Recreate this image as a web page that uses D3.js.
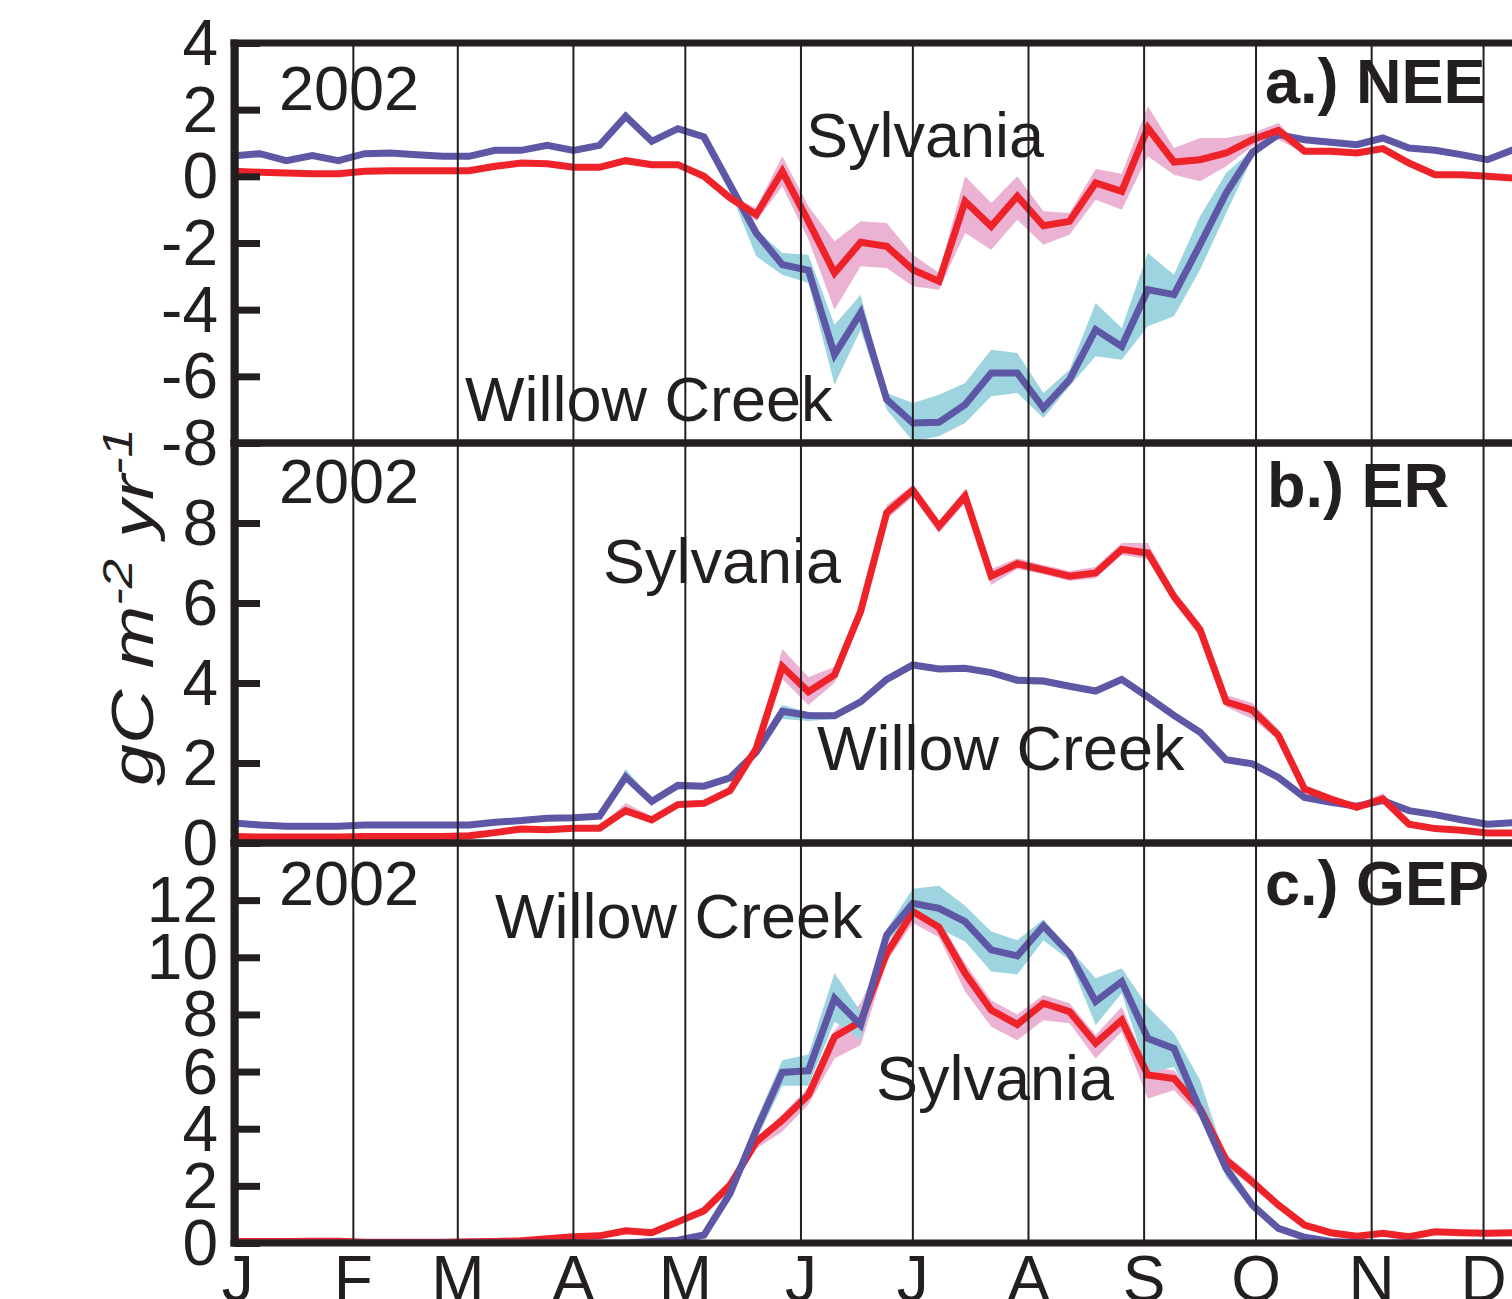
<!DOCTYPE html>
<html>
<head>
<meta charset="utf-8">
<script src="https://cdn.jsdelivr.net/npm/d3@7"></script>
<style>
  html, body { margin: 0; padding: 0; background: #ffffff; }
  svg { display: block; }
  text { font-family: "Liberation Sans", Arial, Helvetica, sans-serif; fill: #231f20; }
</style>
</head>
<body>
<svg id="chart" width="1512" height="1299"></svg>
<script>
// Weekly sample days (days since 1 Jan 2002)
const weekDays = [0,7,14,21,28,35,42,49,56,63,70,77,84,91,98,105,112,119,126,133,140,147,154,161,168,175,182,189,196,203,210,217,224,231,238,245,252,259,266,273,280,287,294,301,308,315,322,329,336,343];

// Month labels and the day-of-year of each month start
const monthLabels = ["J","F","M","A","M","J","J","A","S","O","N","D"];
const monthStarts = [1,32,60,91,121,152,182,213,244,274,305,335];

// a.) NEE
const neeWillow = [0.62,0.68,0.47,0.62,0.47,0.68,0.70,0.65,0.60,0.60,0.78,0.78,0.93,0.78,0.93,1.80,1.05,1.43,1.18,-0.26,-1.70,-2.65,-2.82,-5.35,-4.10,-6.70,-7.40,-7.38,-6.85,-5.90,-5.90,-6.95,-6.10,-4.60,-5.10,-3.40,-3.55,-2.05,-0.50,0.72,1.25,1.10,1.02,0.95,1.15,0.85,0.78,0.65,0.50,0.80];
const neeWillowLo = [0.57,0.63,0.42,0.57,0.42,0.63,0.65,0.60,0.55,0.55,0.73,0.73,0.88,0.73,0.88,1.70,0.98,1.36,1.10,-0.45,-2.40,-2.95,-3.20,-6.25,-4.60,-7.00,-7.95,-7.80,-7.40,-6.60,-6.50,-7.25,-6.30,-5.40,-5.50,-4.50,-4.20,-2.80,-1.10,0.55,1.18,1.04,0.96,0.89,1.08,0.79,0.72,0.59,0.44,0.74];
const neeWillowHi = [0.67,0.73,0.52,0.67,0.52,0.73,0.75,0.70,0.65,0.65,0.83,0.83,0.98,0.83,0.98,1.95,1.12,1.50,1.26,-0.10,-1.60,-2.30,-2.35,-4.45,-3.55,-6.50,-6.80,-6.55,-6.20,-5.20,-5.30,-6.50,-5.80,-3.80,-4.55,-2.30,-2.95,-1.20,0.10,0.80,1.32,1.16,1.08,1.01,1.22,0.91,0.84,0.71,0.56,0.86];
const neeSylvania = [0.15,0.12,0.10,0.08,0.08,0.15,0.17,0.17,0.17,0.17,0.30,0.40,0.38,0.27,0.27,0.47,0.35,0.35,0.00,-0.65,-1.15,0.15,-1.35,-2.90,-1.98,-2.10,-2.80,-3.15,-0.75,-1.50,-0.60,-1.48,-1.35,-0.20,-0.45,1.45,0.43,0.50,0.70,1.10,1.38,0.75,0.75,0.70,0.83,0.40,0.05,0.05,0.00,-0.05];
const neeSylvaniaLo = [0.10,0.07,0.05,0.03,0.03,0.10,0.12,0.12,0.12,0.12,0.25,0.35,0.33,0.22,0.22,0.42,0.30,0.30,-0.10,-0.75,-1.35,-0.30,-1.90,-4.00,-2.70,-2.75,-3.30,-3.40,-1.70,-2.20,-1.30,-2.05,-1.75,-0.70,-1.00,0.60,0.05,-0.15,0.30,0.90,1.10,0.70,0.70,0.65,0.78,0.35,0.00,0.00,-0.05,-0.10];
const neeSylvaniaHi = [0.20,0.17,0.15,0.13,0.13,0.20,0.22,0.22,0.22,0.22,0.35,0.45,0.43,0.32,0.32,0.52,0.40,0.40,0.08,-0.55,-0.95,0.60,-0.90,-1.95,-1.35,-1.40,-2.35,-2.90,0.00,-0.80,0.00,-1.05,-1.10,0.22,0.08,2.10,0.85,1.15,1.15,1.30,1.60,0.80,0.80,0.75,0.88,0.45,0.10,0.10,0.05,0.00];

// b.) ER
const erWillow = [0.50,0.45,0.42,0.42,0.42,0.45,0.45,0.45,0.45,0.45,0.52,0.56,0.62,0.63,0.67,1.65,1.04,1.44,1.42,1.63,2.27,3.29,3.19,3.18,3.53,4.09,4.45,4.35,4.37,4.26,4.07,4.05,3.92,3.80,4.09,3.65,3.19,2.77,2.08,1.98,1.64,1.14,1.02,0.92,1.06,0.81,0.71,0.58,0.47,0.51];
const erWillowLo = [0.45,0.40,0.37,0.37,0.37,0.40,0.40,0.40,0.40,0.40,0.47,0.51,0.57,0.58,0.62,1.55,0.98,1.38,1.36,1.56,2.18,3.10,3.05,3.10,3.45,4.00,4.38,4.28,4.30,4.18,3.98,3.96,3.84,3.72,4.00,3.57,3.11,2.69,2.00,1.90,1.56,1.07,0.95,0.85,0.99,0.75,0.65,0.52,0.41,0.45];
const erWillowHi = [0.55,0.50,0.47,0.47,0.47,0.50,0.50,0.50,0.50,0.50,0.57,0.61,0.67,0.68,0.72,1.85,1.10,1.50,1.48,1.70,2.36,3.45,3.27,3.26,3.61,4.18,4.52,4.42,4.44,4.34,4.16,4.14,4.00,3.88,4.18,3.73,3.27,2.85,2.16,2.06,1.72,1.21,1.09,0.99,1.13,0.87,0.77,0.64,0.53,0.57];
const erSylvania = [0.16,0.15,0.15,0.15,0.15,0.16,0.16,0.16,0.16,0.18,0.26,0.35,0.33,0.37,0.37,0.81,0.58,0.96,0.99,1.31,2.36,4.41,3.78,4.20,5.79,8.26,8.82,7.92,8.67,6.67,6.98,6.83,6.67,6.75,7.34,7.25,6.16,5.33,3.53,3.32,2.69,1.35,1.10,0.89,1.10,0.47,0.36,0.32,0.25,0.25];
const erSylvaniaLo = [0.11,0.10,0.10,0.10,0.10,0.11,0.11,0.11,0.11,0.13,0.21,0.30,0.28,0.32,0.32,0.70,0.52,0.88,0.92,1.22,2.25,4.10,3.45,4.00,5.62,8.10,8.65,7.75,8.50,6.45,6.85,6.72,6.55,6.62,7.20,7.10,6.00,5.15,3.40,3.10,2.58,1.26,1.02,0.82,1.00,0.41,0.30,0.26,0.19,0.19];
const erSylvaniaHi = [0.21,0.20,0.20,0.20,0.20,0.21,0.21,0.21,0.21,0.23,0.31,0.40,0.38,0.42,0.42,1.00,0.66,1.05,1.08,1.42,2.48,4.85,4.15,4.40,5.95,8.45,8.95,8.05,8.85,6.85,7.12,6.95,6.80,6.90,7.50,7.50,6.32,5.50,3.70,3.50,2.85,1.45,1.20,0.96,1.25,0.53,0.42,0.38,0.31,0.31];

// c.) GEP
const gepWillow = [0.00,0.00,0.00,0.00,0.00,0.00,0.00,0.00,0.00,0.00,0.00,0.00,0.00,0.00,0.00,0.00,0.05,0.10,0.28,1.74,3.95,5.97,6.03,8.56,7.63,10.78,11.89,11.71,11.25,10.26,10.05,11.10,10.14,8.45,9.15,7.16,6.81,4.65,2.61,1.33,0.51,0.20,0.05,0.02,0.00,0.00,0.00,0.00,0.00,0.00];
const gepWillowLo = [0.00,0.00,0.00,0.00,0.00,0.00,0.00,0.00,0.00,0.00,0.00,0.00,0.00,0.00,0.00,0.00,0.02,0.05,0.18,1.50,3.60,5.50,5.50,7.75,7.10,10.50,11.60,11.00,10.55,9.50,9.40,10.60,9.90,7.63,8.74,5.94,6.17,4.54,2.30,1.15,0.40,0.15,0.02,0.00,0.00,0.00,0.00,0.00,0.00,0.00];
const gepWillowHi = [0.05,0.05,0.05,0.05,0.05,0.05,0.05,0.05,0.05,0.05,0.05,0.05,0.05,0.05,0.05,0.05,0.08,0.15,0.38,2.00,4.30,6.40,6.60,9.45,8.10,11.00,12.40,12.50,11.80,10.90,10.60,11.33,10.30,9.27,9.62,8.27,7.34,5.70,2.90,1.50,0.60,0.25,0.08,0.05,0.05,0.05,0.05,0.05,0.05,0.05];
const gepSylvania = [0.05,0.05,0.05,0.06,0.06,0.03,0.03,0.03,0.03,0.04,0.05,0.08,0.15,0.22,0.25,0.43,0.36,0.74,1.13,2.03,3.54,4.30,5.18,7.22,7.75,10.14,11.60,11.05,9.44,8.15,7.65,8.39,8.10,6.99,7.80,5.88,5.76,4.71,2.90,2.14,1.33,0.63,0.36,0.24,0.34,0.22,0.39,0.36,0.34,0.36];
const gepSylvaniaLo = [0.00,0.00,0.00,0.01,0.01,0.00,0.00,0.00,0.00,0.00,0.00,0.03,0.10,0.17,0.20,0.36,0.30,0.64,0.98,1.80,3.30,3.90,4.85,6.46,6.93,9.85,11.20,10.70,8.80,7.57,7.10,7.80,7.69,6.46,7.39,5.06,5.35,4.40,2.70,1.95,1.20,0.57,0.31,0.19,0.29,0.17,0.34,0.31,0.29,0.31];
const gepSylvaniaHi = [0.10,0.10,0.10,0.11,0.11,0.08,0.08,0.08,0.08,0.09,0.10,0.13,0.20,0.27,0.30,0.50,0.42,0.84,1.28,2.20,3.70,4.50,5.45,7.45,8.39,10.40,11.85,11.30,9.79,8.50,8.00,8.68,8.39,7.28,8.27,6.17,6.05,5.00,3.10,2.35,1.45,0.69,0.41,0.29,0.39,0.27,0.44,0.41,0.39,0.41];

// Tick values per panel
const neeTicks = [4, 2, 0, -2, -4, -6, -8];
const erTicks = [0, 2, 4, 6, 8];
const gepTicks = [0, 2, 4, 6, 8, 10, 12];

// ---------------------------------------------------------------
const INK = "#231f20";
const RED = "#ee2229";
const PURPLE = "#5e57a6";
const PINK = "#ebb2d3";
const CYAN = "#9ed4df";

const svg = d3.select("#chart");
const left = 234, right = 1600;
const panelH = 400, firstTop = 43;
const FS = 63;

const x = d3.scaleLinear().domain([0, 365]).range([left, left + 365 * 3.73]);

const panels = [
  { id: "a", title: "a.) NEE", domain: [-8, 4], ticks: neeTicks,
    willow: neeWillow, willowLo: neeWillowLo, willowHi: neeWillowHi,
    syl: neeSylvania, sylLo: neeSylvaniaLo, sylHi: neeSylvaniaHi,
    redOnTop: true,
    labels: [
      { t: "2002", x: 279, y: 110 },
      { t: "a.) NEE", x: 1265, y: 103, bold: true },
      { t: "Sylvania", x: 806, y: 157 },
      { t: "Willow Creek", x: 465, y: 421 }
    ] },
  { id: "b", title: "b.) ER", domain: [0, 10], ticks: erTicks,
    willow: erWillow, willowLo: erWillowLo, willowHi: erWillowHi,
    syl: erSylvania, sylLo: erSylvaniaLo, sylHi: erSylvaniaHi,
    redOnTop: true,
    labels: [
      { t: "2002", x: 279, y: 503 },
      { t: "b.) ER", x: 1267, y: 507, bold: true },
      { t: "Sylvania", x: 603, y: 583 },
      { t: "Willow Creek", x: 817, y: 770 }
    ] },
  { id: "c", title: "c.) GEP", domain: [0, 14], ticks: gepTicks,
    willow: gepWillow, willowLo: gepWillowLo, willowHi: gepWillowHi,
    syl: gepSylvania, sylLo: gepSylvaniaLo, sylHi: gepSylvaniaHi,
    redOnTop: false,
    labels: [
      { t: "2002", x: 279, y: 905 },
      { t: "c.) GEP", x: 1265, y: 905, bold: true },
      { t: "Willow Creek", x: 495, y: 938 },
      { t: "Sylvania", x: 876, y: 1100 }
    ] }
];

const defs = svg.append("defs");

panels.forEach((p, k) => {
  const top = firstTop + k * panelH;
  const bottom = top + panelH;
  const y = d3.scaleLinear().domain(p.domain).range([bottom, top]);

  defs.append("clipPath").attr("id", "clip-" + p.id)
    .append("rect").attr("x", left).attr("y", top).attr("width", right - left).attr("height", panelH);

  const g = svg.append("g");
  const plot = g.append("g").attr("clip-path", `url(#clip-${p.id})`);

  const area = (lo, hi) => d3.area()
    .x((d, i) => x(weekDays[i]))
    .y0((d, i) => y(lo[i]))
    .y1((d, i) => y(hi[i]));
  const line = vals => d3.line()
    .x((d, i) => x(weekDays[i]))
    .y(d => y(d))(vals);

  // uncertainty envelopes
  plot.append("path").attr("d", area(p.sylLo, p.sylHi)(weekDays)).attr("fill", PINK);
  plot.append("path").attr("d", area(p.willowLo, p.willowHi)(weekDays)).attr("fill", CYAN);

  const drawWillow = () => plot.append("path").attr("d", line(p.willow))
    .attr("fill", "none").attr("stroke", PURPLE).attr("stroke-width", 7).attr("stroke-linejoin", "miter");
  const drawSyl = () => plot.append("path").attr("d", line(p.syl))
    .attr("fill", "none").attr("stroke", RED).attr("stroke-width", 7).attr("stroke-linejoin", "miter");
  if (p.redOnTop) { drawWillow(); drawSyl(); } else { drawSyl(); drawWillow(); }

  // in-panel text
  p.labels.forEach(l => {
    g.append("text").attr("x", l.x).attr("y", l.y)
      .attr("font-size", FS).attr("font-weight", l.bold ? "bold" : "normal")
      .text(l.t);
  });

  // month grid lines
  g.selectAll(".grid").data(monthStarts).enter().append("line")
    .attr("x1", d => x(d)).attr("x2", d => x(d))
    .attr("y1", top).attr("y2", bottom)
    .attr("stroke", INK).attr("stroke-width", 2);

  // y axis: inward ticks
  const axis = d3.axisRight(y).tickValues(p.ticks).tickSize(26).tickFormat("");
  const ax = g.append("g").attr("transform", `translate(${left},0)`).call(axis);
  ax.select(".domain").remove();
  ax.selectAll(".tick line").attr("stroke", INK).attr("stroke-width", 7);

  // y tick labels
  g.selectAll(".ylab").data(p.ticks).enter().append("text")
    .attr("x", 218).attr("y", d => y(d))
    .attr("text-anchor", "end").attr("dominant-baseline", "central")
    .attr("font-size", 64)
    .text(d => d < 0 ? "-" + Math.abs(d) : String(d));

  // panel frame (top and bottom rules)
  [top, bottom].forEach(yy => {
    g.append("line").attr("x1", left - 3.5).attr("x2", right).attr("y1", yy).attr("y2", yy)
      .attr("stroke", INK).attr("stroke-width", 7);
  });
});

// left axis rule
svg.append("line").attr("x1", left).attr("x2", left)
  .attr("y1", firstTop - 3.5).attr("y2", firstTop + 3 * panelH + 3.5)
  .attr("stroke", INK).attr("stroke-width", 7);

// month labels
svg.selectAll(".mlab").data(monthStarts).enter().append("text")
  .attr("x", d => x(d)).attr("y", 1301)
  .attr("text-anchor", "middle").attr("font-size", 64)
  .text((d, i) => monthLabels[i]);

// y axis title
const yt = svg.append("text")
  .attr("transform", "translate(153,607) rotate(-90)")
  .attr("text-anchor", "middle")
  .attr("font-size", 60).attr("font-style", "italic")
  .attr("textLength", 358).attr("lengthAdjust", "spacingAndGlyphs");
yt.append("tspan").text("gC m");
yt.append("tspan").attr("dy", -21).attr("font-size", 42).text("-2");
yt.append("tspan").attr("dy", 21).text(" yr");
yt.append("tspan").attr("dy", -21).attr("font-size", 42).text("-1");
</script>
</body>
</html>
